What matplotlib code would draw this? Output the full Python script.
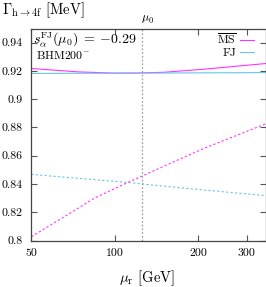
import numpy as np
import matplotlib
matplotlib.use("Agg")
import matplotlib.pyplot as plt
from matplotlib.ticker import FixedLocator, FixedFormatter, NullLocator

plt.rcParams["font.family"] = "serif"
plt.rcParams["font.serif"] = ["cmr10", "DejaVu Serif"]
plt.rcParams["mathtext.fontset"] = "cm"
plt.rcParams["axes.unicode_minus"] = False

# ============================================================
# DATA
# ============================================================

mu_ms_lo = [50, 64, 84.5, 113, 149, 210, 341, 350]
gam_ms_lo = [0.8027, 0.8154, 0.8300, 0.8416, 0.8522, 0.8652, 0.8816, 0.8825]

mu_fj_lo = [50, 84.5, 113, 131, 210, 350]
gam_fj_lo = [0.8468, 0.8430, 0.8410, 0.8396, 0.8357, 0.8318]

mu_ms_nlo = [50, 74, 100, 121, 150, 210, 350]
gam_ms_nlo = [0.9217, 0.9193, 0.9184, 0.9185, 0.9190, 0.9212, 0.9252]

mu_fj_nlo = [50, 100, 200, 350]
gam_fj_nlo = [0.9182, 0.9184, 0.9186, 0.9188]

mu0 = 125
x_ticks = [50, 100, 200, 300]
y_ticks = [0.8, 0.82, 0.84, 0.86, 0.88, 0.9, 0.92, 0.94]
y_labels = ["0.8", "0.82", "0.84", "0.86", "0.88", "0.9", "0.92", "0.94"]

MAGENTA = "#ff33ff"
BLUE = "#66c4ee"

# ============================================================
# PLOT
# ============================================================

fig = plt.figure(figsize=(2.66, 2.87), dpi=100)
ax = fig.add_axes([31.3 / 266, 1 - 240.5 / 287, (265.5 - 31.3) / 266, (240.5 - 28.5) / 287])

ax.plot(mu_ms_nlo, gam_ms_nlo, color=MAGENTA, lw=0.8, label=r"$\overline{\rm MS}$")
ax.plot(mu_fj_nlo, gam_fj_nlo, color=BLUE, lw=0.8, label="FJ")
ax.plot(mu_ms_lo, gam_ms_lo, color=MAGENTA, lw=0.8, ls=(0, (2, 2)))
ax.plot(mu_fj_lo, gam_fj_lo, color=BLUE, lw=0.8, ls=(0, (2, 2)))

ax.axvline(mu0, color="#a0a0a0", lw=0.9, ls=(0, (1.5, 1.5)))

ax.set_xscale("log")
ax.set_xlim(50, 350)
ax.set_ylim(0.8, 0.95)
ax.xaxis.set_major_locator(FixedLocator(x_ticks))
ax.xaxis.set_major_formatter(FixedFormatter([str(v) for v in x_ticks]))
ax.xaxis.set_minor_locator(NullLocator())
ax.yaxis.set_major_locator(FixedLocator(y_ticks))
ax.yaxis.set_major_formatter(FixedFormatter(y_labels))

ax.tick_params(direction="in", length=4, width=0.8, labelsize=8.5, pad=6,
               top=True, right=True, color="#555555")
for s in ax.spines.values():
    s.set_linewidth(0.9)
    s.set_color("#444444")

ax.text(0.006, 0.93, r"$s_\alpha^{\rm FJ}(\mu_0)\;=\;{-}0.29$", transform=ax.transAxes,
        fontsize=10, va="baseline", ha="left")
ax.text(0.02, 0.858, r"BHM200$^{-}$", transform=ax.transAxes,
        fontsize=8.5, va="baseline", ha="left")

ax.legend(loc="upper right", frameon=False, markerfirst=False, fontsize=8.5,
          handlelength=1.2, handletextpad=0.3, labelspacing=0.08,
          borderaxespad=0, borderpad=0.3, bbox_to_anchor=(0.967, 1.0))

fig.text(147 / 266, 1 - 20 / 287, r"$\mu_0$", fontsize=8.5, ha="center", va="center")
fig.text(2 / 266, 1 - 10 / 287, r"$\Gamma_{\rm h\to 4f}$ [MeV]", fontsize=10.5, ha="left", va="center")
fig.text(146.5 / 266, 1 - 282 / 287, r"$\mu_{\rm r}$ [GeV]", fontsize=10.5, ha="center", va="baseline")

fig.savefig("out.png", dpi=100)
